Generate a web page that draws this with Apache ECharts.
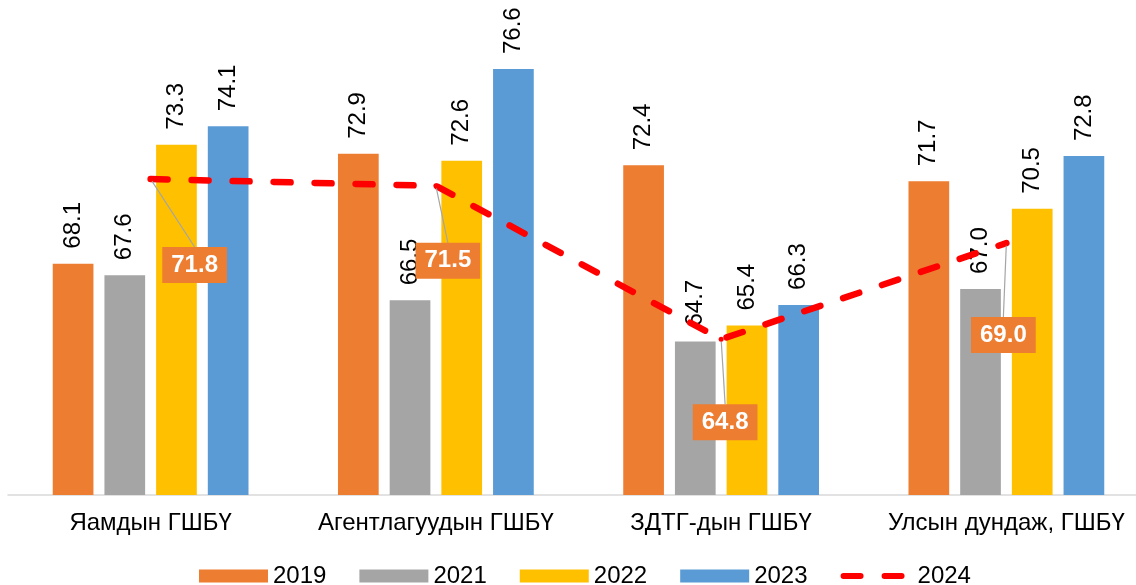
<!DOCTYPE html>
<html>
<head>
<meta charset="utf-8">
<script src="https://cdn.jsdelivr.net/npm/echarts@6/dist/echarts.min.js"></script>
<style>
  html, body { margin: 0; padding: 0; background: #fff; }
  #box { width: 1136px; height: 585px; }
</style>
</head>
<body>
<div id="box"></div>
<script>
// categories and values
var categories = ["Яамдын ГШБҮ", "Агентлагуудын ГШБҮ", "ЗДТГ-дын ГШБҮ", "Улсын дундаж, ГШБҮ"];
var v2019 = [68.1, 72.9, 72.4, 71.7];
var v2021 = [67.6, 66.5, 64.7, 67.0];
var v2022 = [73.3, 72.6, 65.4, 70.5];
var v2023 = [74.1, 76.6, 66.3, 72.8];
var v2024 = [71.8, 71.5, 64.8, 69.0];

// where the 2024 boxes sit relative to their points (px)
var boxOffsets = [[44, 86], [12, 75], [4, 83], [-3, 92]];

var font = "'Liberation Sans', Arial, sans-serif";

function barSeries(name, color, data) {
  return {
    name: name,
    type: "bar",
    barWidth: 40.7,
    barGap: "27%",
    itemStyle: { color: color },
    label: {
      show: true,
      position: "top",
      rotate: 90,
      align: "left",
      verticalAlign: "middle",
      distance: 15,
      fontSize: 24,
      fontFamily: font,
      color: "#000",
      formatter: function (p) { return p.value.toFixed(1); }
    },
    data: data
  };
}

var myChart = echarts.init(document.getElementById("box"));
var option = {
  animation: false,
  textStyle: { fontFamily: font },
  grid: { left: 8, top: 37, width: 1141, height: 458, containLabel: false, outerBoundsMode: "none" },
  legend: {
    left: 194,
    top: 559,
    itemWidth: 69,
    itemHeight: 13,
    itemGap: 33,
    textStyle: { fontSize: 24, color: "#000", fontFamily: font },
    data: [
      { name: "2019", icon: "rect" },
      { name: "2021", icon: "rect" },
      { name: "2022", icon: "rect" },
      { name: "2023", icon: "rect" },
      { name: "2024", itemStyle: { opacity: 0 }, lineStyle: { width: 6 } }
    ]
  },
  xAxis: {
    type: "category",
    data: categories,
    axisLine: { lineStyle: { color: "#D9D9D9", width: 1.5 } },
    axisTick: { show: false },
    axisLabel: { interval: 0, fontSize: 24, color: "#000", margin: 16, fontFamily: font }
  },
  yAxis: {
    type: "value",
    min: 58,
    max: 78,
    show: false,
    splitLine: { show: false }
  },
  series: [
    barSeries("2019", "#ED7D31", v2019),
    barSeries("2021", "#A5A5A5", v2021),
    barSeries("2022", "#FFC000", v2022),
    barSeries("2023", "#5B9BD5", v2023),
    {
      name: "2024",
      type: "line",
      symbol: "circle",
      symbolSize: 5,
      itemStyle: { color: "#FF0000" },
      lineStyle: { color: "#FF0000", width: 6.5, type: [17, 24], cap: "round" },
      label: {
        show: true,
        position: "inside",
        backgroundColor: "#ED7D31",
        color: "#fff",
        fontWeight: "bold",
        fontSize: 24,
        lineHeight: 24,
        padding: [6, 9],
        fontFamily: font,
        formatter: function (p) { return p.value.toFixed(1); }
      },
      labelLine: { show: true, lineStyle: { color: "#A5A5A5", width: 1.2 } },
      labelLayout: function (params) {
        var o = boxOffsets[params.dataIndex];
        return { dx: o[0], dy: o[1] };
      },
      z: 5,
      data: v2024
    }
  ]
};
myChart.setOption(option);
</script>
</body>
</html>
